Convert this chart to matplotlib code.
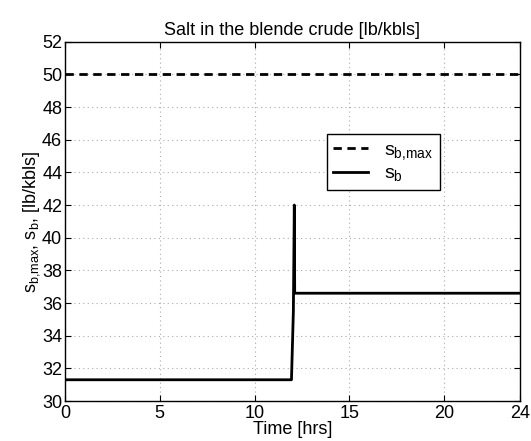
import numpy as np
import matplotlib.pyplot as plt

plt.rcParams['font.family'] = ['Liberation Sans', 'DejaVu Sans']
plt.rcParams['mathtext.fontset'] = 'custom'
plt.rcParams['mathtext.rm'] = 'Liberation Sans'
plt.rcParams['mathtext.it'] = 'Liberation Sans'
plt.rcParams['mathtext.default'] = 'regular'

# salt limit and blended crude salt content
t_max = [0, 24]
s_max = [50, 50]

t_b = [0, 11.95, 12.05, 12.1, 12.12, 12.15, 24]
s_b = [31.3, 31.3, 35.5, 42.0, 36.6, 36.6, 36.6]

xticks = [0, 5, 10, 15, 20, 24]
yticks = np.arange(30, 53, 2)

fig = plt.figure(figsize=(5.31, 4.41), dpi=100)
ax = fig.add_axes([0.1224, 0.0907, 0.8566, 0.8147])

ax.plot(t_max, s_max, color='k', ls=(0, (3, 2)), lw=2, label=r'$s_{b{,}max}$')
ax.plot(t_b, s_b, 'k-', lw=2, label=r'$s_b$')

ax.set_xlim(0, 24)
ax.set_ylim(30, 52)
ax.set_xticks(xticks)
ax.set_yticks(yticks)
ax.tick_params(direction='in', top=True, right=True, labelsize=13, length=4)
ax.tick_params(axis='x', pad=3)
ax.tick_params(axis='y', pad=2)
ax.grid(True, linestyle=(0, (1, 3)), color='#aaaaaa', linewidth=0.8)
for sp in ax.spines.values():
    sp.set_linewidth(1)

ax.set_title('Salt in the blende crude [lb/kbls]', fontsize=13, pad=5)
ax.set_xlabel('Time [hrs]', fontsize=13, labelpad=-1)
ax.set_ylabel(r'$s_{b{,}max}$, $s_b$, [lb/kbls]', fontsize=13, labelpad=0)

leg = ax.legend(loc='upper left', bbox_to_anchor=(0.575, 0.742), fontsize=14,
                fancybox=False, edgecolor='black', framealpha=1,
                handlelength=1.8, borderpad=0.35, labelspacing=0.15,
                borderaxespad=0)
leg.get_frame().set_linewidth(1)

plt.savefig('out.png', dpi=100)
